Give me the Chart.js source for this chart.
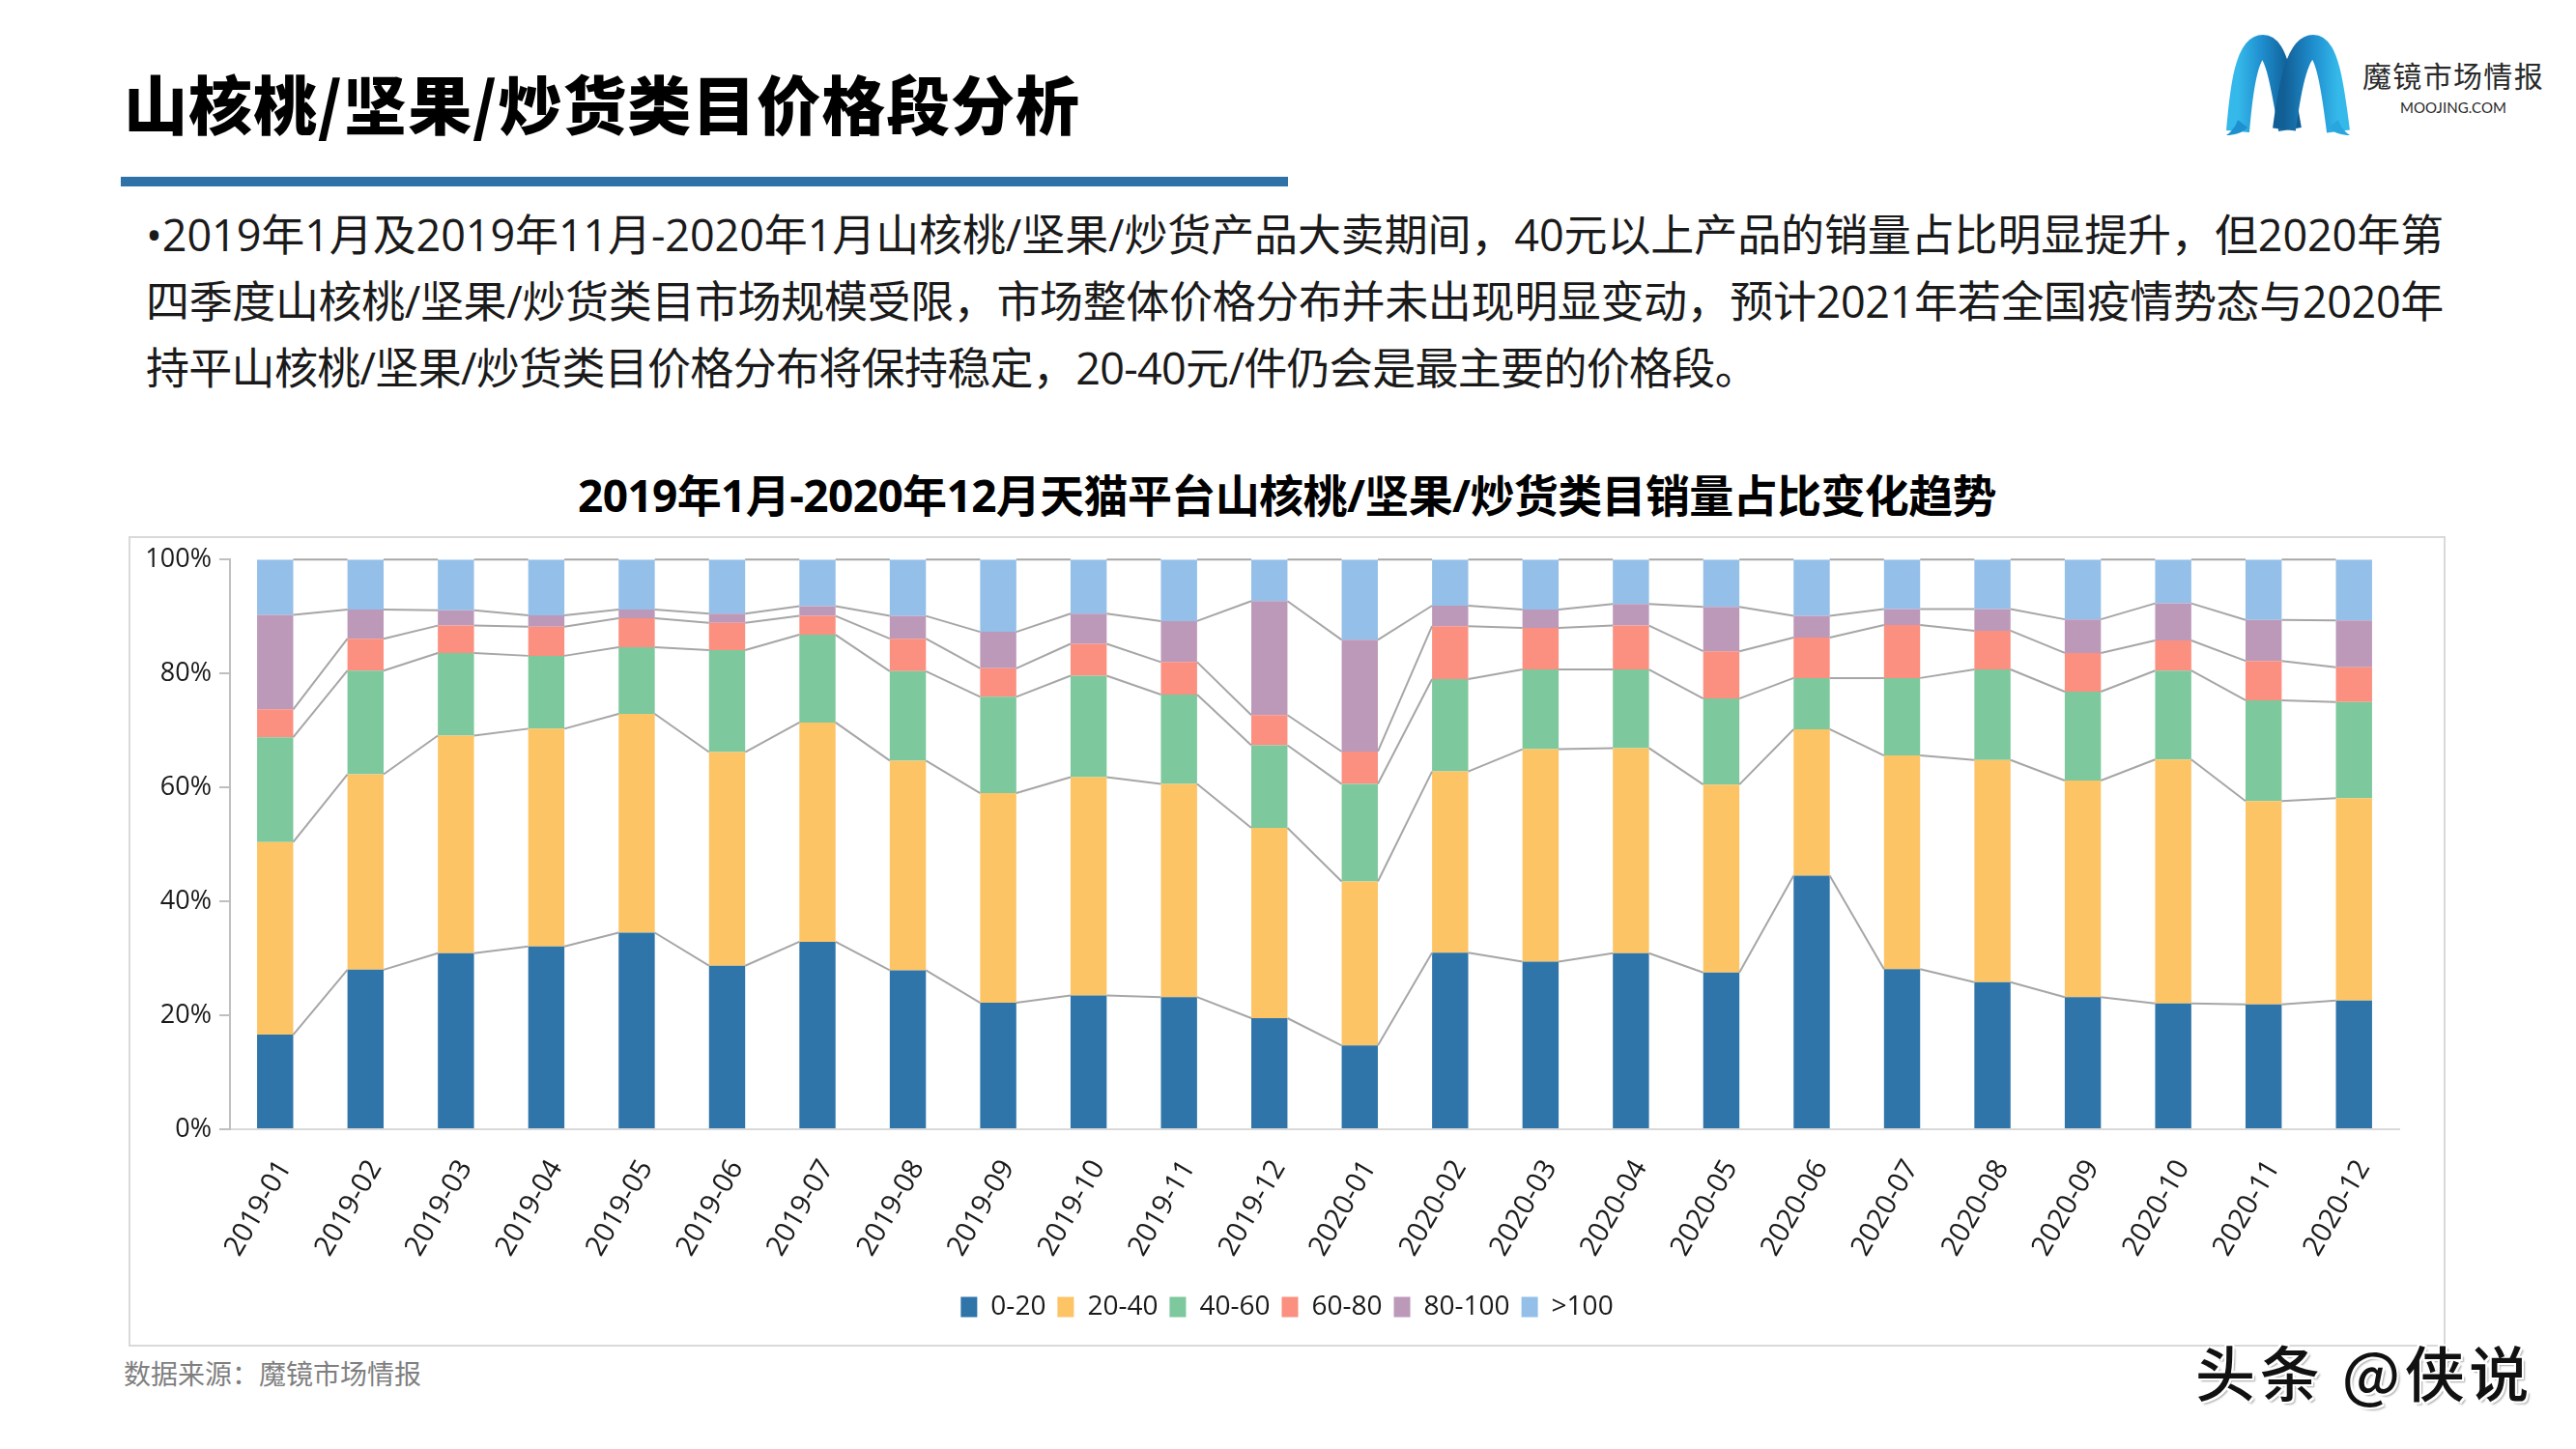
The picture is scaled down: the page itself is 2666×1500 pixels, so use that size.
<!DOCTYPE html>
<html>
<head>
<meta charset="utf-8">
<script src="https://cdn.jsdelivr.net/npm/chart.js@4.4.0/dist/chart.umd.min.js"></script>
<style>
  html, body { margin: 0; padding: 0; background: #fff; }
  body { width: 2666px; height: 1500px; position: relative; overflow: hidden;
         font-family: "Open Sans", "Noto Sans CJK SC", sans-serif; }
  .abs { position: absolute; white-space: nowrap; }
  #title { left: 128px; top: 67px; font-family: "Noto Sans CJK SC", sans-serif; font-weight: 900;
           font-size: 66px; line-height: 76px; color: #000; }
  #rule { left: 125px; top: 183px; width: 1208px; height: 10px; background: #2f72a8; }
  .para { left: 151px; font-size: 45px; line-height: 69px; color: #1a1a1a; }
  #p1 { top: 208px; } #p2 { top: 277px; } #p3 { top: 346px; }
  #ctitle { top: 482px; font-size: 46px; font-weight: 700; line-height: 60px; color: #000;
            font-family: "Open Sans", "Noto Sans CJK SC", sans-serif; }
  #frame { left: 133px; top: 555px; width: 2398px; height: 839px; box-sizing: border-box;
           border: 2px solid #d9d9d9; }
  #chartwrap { left: 133px; top: 555px; width: 2398px; height: 839px; }
  #source { left: 128px; top: 1403px; font-size: 28px; line-height: 36px; color: #7f7f7f;
            font-family: "Noto Sans CJK SC", sans-serif; }
  #brand { left: 2445px; top: 57px; font-size: 30px; line-height: 40px; color: #2a2a2a;
           font-family: "Noto Sans CJK SC", sans-serif; }
  #brand2 { left: 2484px; top: 101px; font-size: 15px; line-height: 20px; color: #2a2a2a;
            letter-spacing: 2px; font-family: "Lato", "Open Sans", sans-serif; }
  #wm { left: 2272px; top: 1384px; font-size: 62px; line-height: 70px; color: #111;
        font-family: "Noto Sans CJK SC", sans-serif; font-weight: 500;
        text-shadow: 2px 2px 0 #fff, -2px -2px 0 #fff, 2px -2px 0 #fff, -2px 2px 0 #fff, 3px 3px 2px rgba(0,0,0,0.35); }
</style>
</head>
<body>
<div id="title" class="abs">山核桃/坚果/炒货类目价格段分析</div>
<div id="rule" class="abs"></div>

<svg class="abs" style="left:2304px;top:36px" width="128" height="106" viewBox="0 0 128 106">
  <defs>
    <linearGradient id="g1" x1="0" y1="0" x2="1" y2="0">
      <stop offset="0" stop-color="#35b9ea"/>
      <stop offset="0.45" stop-color="#1f8fcf"/>
      <stop offset="1" stop-color="#0f5d93"/>
    </linearGradient>
    <linearGradient id="g2" x1="0" y1="0" x2="1" y2="0">
      <stop offset="0" stop-color="#125f96"/>
      <stop offset="0.55" stop-color="#1f8fcf"/>
      <stop offset="1" stop-color="#35b9ea"/>
    </linearGradient>
  </defs>
  <path d="M12,100 C16,52 22,12 38,12 C52,12 58,52 66,98" fill="none" stroke="url(#g1)" stroke-width="24"/>
  <path d="M60,98 C66,52 74,12 90,12 C104,12 110,52 116,100" fill="none" stroke="url(#g2)" stroke-width="24"/>
  <path d="M0,104 C6,100 10,94 12,88 L22,96 C16,102 8,104 0,104 Z" fill="#1e8fcf"/>
  <path d="M128,104 C122,100 118,94 116,88 L106,96 C112,102 120,104 128,104 Z" fill="#2aa6de"/>
</svg>
<div id="brand" class="abs">魔镜市场情报</div>
<div id="brand2" class="abs">MOOJING.COM</div>

<div id="p1" class="abs para">•2019年1月及2019年11月-2020年1月山核桃/坚果/炒货产品大卖期间，40元以上产品的销量占比明显提升，但2020年第</div>
<div id="p2" class="abs para">四季度山核桃/坚果/炒货类目市场规模受限，市场整体价格分布并未出现明显变动，预计2021年若全国疫情势态与2020年</div>
<div id="p3" class="abs para">持平山核桃/坚果/炒货类目价格分布将保持稳定，20-40元/件仍会是最主要的价格段。</div>

<div id="ctitle" class="abs">2019年1月-2020年12月天猫平台山核桃/坚果/炒货类目销量占比变化趋势</div>

<div id="frame" class="abs"></div>
<div id="chartwrap" class="abs"><canvas id="c" width="2398" height="839"></canvas></div>

<div id="source" class="abs">数据来源：魔镜市场情报</div>
<div id="wm" class="abs">头条 @侠说</div>

<script>
// ---------- data ----------
const categories = ['2019-01','2019-02','2019-03','2019-04','2019-05','2019-06','2019-07','2019-08','2019-09','2019-10','2019-11','2019-12',
                    '2020-01','2020-02','2020-03','2020-04','2020-05','2020-06','2020-07','2020-08','2020-09','2020-10','2020-11','2020-12'];
const seriesNames = ['0-20','20-40','40-60','60-80','80-100','>100'];
const s0_20    = [16.6,28.0,30.9,32.1,34.5,28.7,32.9,27.9,22.2,23.5,23.2,19.5,14.7,31.0,29.4,30.9,27.5,44.5,28.1,25.8,23.2,22.1,21.9,22.6];
const s20_40   = [33.8,34.3,38.2,38.2,38.4,37.5,38.5,36.8,36.8,38.3,37.4,33.4,28.8,31.8,37.3,36.0,33.0,25.7,37.5,39.0,38.0,42.8,35.7,35.5];
const s40_60   = [18.4,18.2,14.5,12.8,11.7,17.9,15.4,15.7,16.9,17.8,15.7,14.5,17.1,16.2,14.0,13.8,15.1,9.0,13.6,15.9,15.6,15.6,17.7,16.9];
const s60_80   = [4.9,5.6,4.8,5.1,5.1,4.8,3.3,5.7,5.0,5.6,5.7,5.3,5.7,9.3,7.3,7.7,8.3,7.1,9.3,6.8,6.8,5.3,6.9,6.1];
const s80_100  = [16.6,5.1,2.7,2.0,1.5,1.6,1.7,4.0,6.4,5.3,7.2,20.0,19.6,3.6,3.2,3.8,7.8,3.8,2.8,3.8,5.9,6.5,7.2,8.2];
const sOver100 = [9.7,8.8,8.9,9.8,8.8,9.5,8.2,9.9,12.7,9.5,10.8,7.3,14.1,8.1,8.8,7.8,8.3,9.9,8.7,8.7,10.5,7.7,10.6,10.7];
const yTickValues = [0,20,40,60,80,100];

const seriesValues = [s0_20, s20_40, s40_60, s60_80, s80_100, sOver100];
const seriesColors = ['#2f75a9','#fcc465','#7dc89d','#fb8f80','#bd99b9','#93bfe8'];

// ---------- text fitting ----------
function fitWidth(id, target) {
  const el = document.getElementById(id);
  el.style.letterSpacing = '0px';
  const w = el.getBoundingClientRect().width;
  const n = Array.from(el.textContent).length;
  el.style.letterSpacing = ((target - w) / n) + 'px';
}

function layoutText() {
  fitWidth('title', 990);
  fitWidth('p1', 2378);
  fitWidth('p2', 2378);
  fitWidth('p3', 1668);
  fitWidth('ctitle', 1468);
  const ct = document.getElementById('ctitle');
  ct.style.left = (1332 - ct.getBoundingClientRect().width / 2) + 'px';
  fitWidth('brand', 188);
  fitWidth('brand2', 110);
  fitWidth('wm', 350);
}

// ---------- series lines plugin ----------
const seriesLines = {
  id: 'seriesLines',
  afterDatasetsDraw(chart) {
    const ctx = chart.ctx;
    ctx.save();
    ctx.strokeStyle = '#a6a6a6';
    ctx.lineWidth = 2;
    chart.data.datasets.forEach((ds, di) => {
      const els = chart.getDatasetMeta(di).data;
      ctx.beginPath();
      for (let i = 0; i < els.length - 1; i++) {
        const a = els[i].getProps(['x','y','width'], true);
        const b = els[i + 1].getProps(['x','y','width'], true);
        ctx.moveTo(a.x + a.width / 2, a.y);
        ctx.lineTo(b.x - b.width / 2, b.y);
      }
      ctx.stroke();
    });
    ctx.restore();
  }
};

function drawChart() {
  const font = { family: '"Open Sans", "Noto Sans CJK SC", sans-serif', size: 27 };
  const xfont = { family: '"Open Sans", "Noto Sans CJK SC", sans-serif', size: 29 };
  const lfont = { family: '"Open Sans", "Noto Sans CJK SC", sans-serif', size: 28 };
  new Chart(document.getElementById('c'), {
    type: 'bar',
    data: {
      labels: categories,
      datasets: seriesNames.map((name, i) => ({
        label: name,
        data: seriesValues[i],
        backgroundColor: seriesColors[i],
        borderWidth: 0,
        barPercentage: 0.4,
        categoryPercentage: 1.0
      }))
    },
    options: {
      responsive: false,
      animation: false,
      devicePixelRatio: 1,
      layout: { padding: { left: 0, right: 0, top: 22, bottom: 17 } },
      plugins: {
        legend: {
          position: 'bottom',
          labels: { font: lfont, color: '#1a1a1a', boxWidth: 17, boxHeight: 21, padding: 12 }
        },
        tooltip: { enabled: false },
        title: { display: false }
      },
      scales: {
        x: {
          stacked: true,
          grid: { display: false, drawTicks: false, tickLength: 0 },
          border: { display: true, color: '#d9d9d9', width: 2 },
          ticks: { autoSkip: false, minRotation: 60, maxRotation: 60, padding: 26, labelOffset: 10, font: xfont, color: '#1a1a1a' },
          afterFit(s) { s.height = 158; }
        },
        y: {
          stacked: true,
          min: 0, max: 100,
          afterBuildTicks(s) { s.ticks = yTickValues.map(v => ({ value: v })); },
          grid: { display: true, drawOnChartArea: false, drawTicks: true, tickLength: 11, color: '#bfbfbf', lineWidth: 2 },
          border: { display: true, color: '#bfbfbf', width: 2 },
          ticks: { callback: v => v + '%', font: font, color: '#1a1a1a', padding: 8 },
          afterFit(s) { s.width = 105; }
        },
        ySpacer: {
          position: 'right',
          display: true,
          grid: { display: false, drawTicks: false },
          border: { display: false },
          ticks: { display: false },
          afterFit(s) { s.width = 48; }
        }
      }
    },
    plugins: [seriesLines]
  });
}

(document.fonts && document.fonts.ready ? document.fonts.ready : Promise.resolve()).then(() => {
  layoutText();
  drawChart();
});
</script>
</body>
</html>
